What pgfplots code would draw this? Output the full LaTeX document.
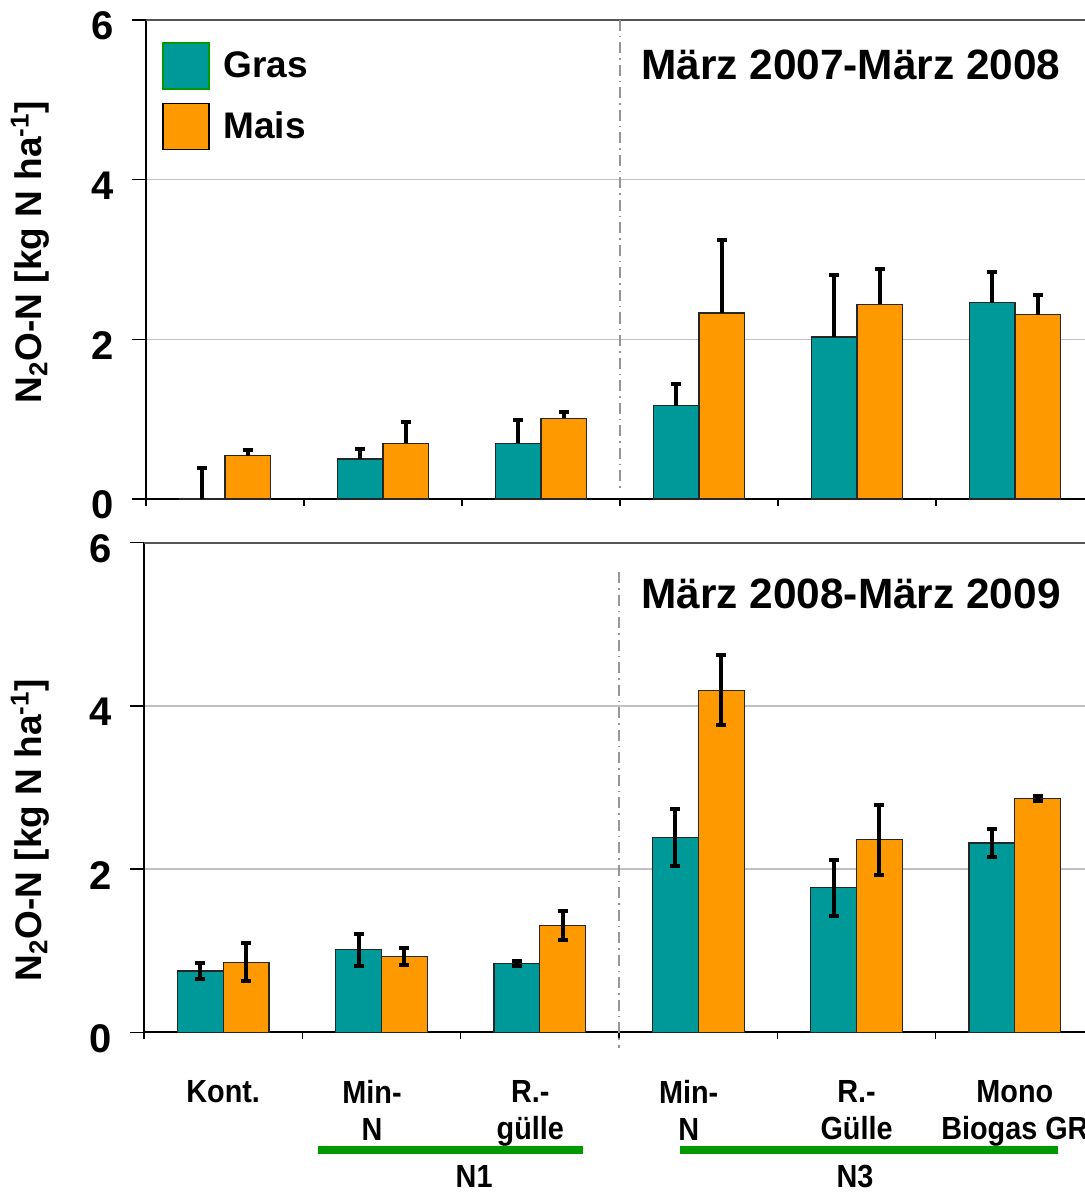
\documentclass[border=0pt]{standalone}
\usepackage{pgfplots}
\pgfplotsset{compat=1.18}
\usepackage{fontspec}
\setmainfont{Liberation Sans}
\newfontfamily\narrowsans[FakeStretch=0.9]{Liberation Sans}

\definecolor{gras}{RGB}{0,153,153}
\definecolor{mais}{RGB}{255,153,0}
\definecolor{ngreen}{RGB}{0,153,0}
\definecolor{gridgray}{RGB}{192,192,192}
\definecolor{sepgray}{RGB}{150,150,150}
\definecolor{framegray}{RGB}{85,85,85}

\tikzset{
  septitle/.style={anchor=base west, font=\fontsize{21.2}{24}\selectfont\bfseries},
  grouplabel/.style={anchor=base, font=\narrowsans\fontsize{16}{20}\selectfont\bfseries},
}

\pgfplotsset{
  panel/.style={
    scale only axis,
    xmin=-0.5, xmax=5.443, ymin=0, ymax=6,
    axis x line*=bottom, axis y line*=left,
    axis line style={black, line width=1pt},
    ytick={0,2,4,6}, yticklabels={0,2,4,6},
    yticklabel style={font=\fontsize{20}{24}\selectfont\bfseries, xshift=-5.5pt, yshift=-3pt},
    ymajorgrids, grid style={gridgray, line width=0.6pt},
    tick align=outside, major tick length=7pt, minor tick length=3.5pt,
    minor xtick={-0.5,0.5,...,4.5},
    tick style={black, line width=0.6pt},
    every major x tick/.style={draw=none},
    bar width=0.29,
    clip=false,
    error bars/error bar style={black, line width=2pt},
    error bars/error mark options={black, line width=2pt, mark size=2.5pt, rotate=90},
  },
  % each bar is placed at its own x (group centre -/+ 0.145)
  grasbar/.style={ybar, bar shift=0pt, fill=gras, draw=black!85, line width=0.6pt},
  maisbar/.style={ybar, bar shift=0pt, fill=mais, draw=black!85, line width=0.6pt},
}

\newcommand{\nlabel}{N\textsubscript{2}O-N [kg N ha\textsuperscript{-1}]}

\begin{document}
\begin{tikzpicture}
\useasboundingbox (0,0) rectangle (542.5pt,596pt);

% 2007/2008
\begin{axis}[panel,
  at={(73pt,346.5pt)}, anchor=south west,
  width=469.5pt, height=239.5pt,
  xtick={0,0.94,1.94,2.94,4,5}, xticklabels={,,,,,},
  legend image code/.code={\draw[#1] (0pt,-11.5pt) rectangle (23pt,11.5pt);},
  legend style={at={(rel axis cs:0,1)}, anchor=north west, xshift=8pt, yshift=-11pt,
    draw=none, fill=none, inner sep=0pt, row sep=6.5pt,
    font=\fontsize{18.5}{20}\selectfont\bfseries,
    /tikz/every odd column/.append style={column sep=5pt}},
  legend cell align=left,
]
\addplot[grasbar, forget plot, error bars/.cd, y dir=plus, y explicit] coordinates {
  (-0.145,0.00) +- (0,0.39)
  (0.855,0.50) +- (0,0.12)
  (1.855,0.70) +- (0,0.29)
  (2.855,1.17) +- (0,0.27)
  (3.855,2.03) +- (0,0.77)
  (4.855,2.46) +- (0,0.38)
};
\addplot[maisbar, forget plot, error bars/.cd, y dir=plus, y explicit] coordinates {
  (0.145,0.54) +- (0,0.07)
  (1.145,0.70) +- (0,0.27)
  (2.145,1.01) +- (0,0.08)
  (3.145,2.33) +- (0,0.92)
  (4.145,2.44) +- (0,0.44)
  (5.145,2.31) +- (0,0.25)
};
\addlegendimage{fill=gras, draw=ngreen, line width=0.6pt}
\addlegendentry{Gras}
\addlegendimage{fill=mais, draw=black, line width=0.6pt}
\addlegendentry{Mais}
\draw[framegray, line width=0.8pt] (rel axis cs:0,1) -- (rel axis cs:1,1);
\draw[sepgray, line width=0.6pt, dash pattern=on 5.5pt off 2.5pt on 0.75pt off 2.5pt]
  (axis cs:2.5,6) -- (axis cs:2.5,0.11);
\node[septitle] at (axis cs:2.589,5.255) {März 2007-März 2008};
\end{axis}

% 2008/2009
\begin{axis}[panel,
  at={(72pt,79.85pt)}, anchor=south west,
  width=470.5pt, height=244.8pt,
  xtick={0,0.94,1.94,2.94,4,5},
  xticklabels={Kont., {Min-\\N}, {R.-\\gülle}, {Min-\\N}, {R.-\\Gülle}, {Mono\\Biogas GR}},
  xticklabel style={font=\narrowsans\fontsize{16}{18.5}\selectfont\bfseries, align=center,
    anchor=north, inner sep=0pt, yshift=-17pt},
]
\addplot[grasbar, error bars/.cd, y dir=both, y explicit] coordinates {
  (-0.145,0.75) +- (0,0.10)
  (0.855,1.01) +- (0,0.20)
  (1.855,0.84) +- (0,0.03)
  (2.855,2.39) +- (0,0.35)
  (3.855,1.77) +- (0,0.34)
  (4.855,2.32) +- (0,0.17)
};
\addplot[maisbar, error bars/.cd, y dir=both, y explicit] coordinates {
  (0.145,0.86) +- (0,0.23)
  (1.145,0.93) +- (0,0.10)
  (2.145,1.31) +- (0,0.18)
  (3.145,4.19) +- (0,0.43)
  (4.145,2.36) +- (0,0.43)
  (5.145,2.87) +- (0,0.03)
};
\draw[framegray, line width=0.8pt] (rel axis cs:0,1) -- (rel axis cs:1,1);
\draw[sepgray, line width=0.6pt, dash pattern=on 5.5pt off 2.5pt on 0.75pt off 2.5pt]
  (axis cs:2.5,5.64) -- (axis cs:2.5,-0.19);
\node[septitle] at (axis cs:2.596,5.195) {März 2008-März 2009};
% nitrogen level groups
\draw[ngreen, line width=4pt] (axis cs:0.599,-1.442) -- (axis cs:2.273,-1.442);
\draw[ngreen, line width=4pt] (axis cs:2.886,-1.442) -- (axis cs:5.274,-1.442);
\node[grouplabel] at (axis cs:1.585,-1.90) {N1};
\node[grouplabel] at (axis cs:3.99,-1.90) {N3};
\end{axis}

\node[rotate=90, font=\fontsize{18.5}{20}\selectfont\bfseries] at (15pt,470pt) {\nlabel};
\node[rotate=90, font=\fontsize{18.5}{20}\selectfont\bfseries] at (15pt,181pt) {\nlabel};
\end{tikzpicture}
\end{document}
